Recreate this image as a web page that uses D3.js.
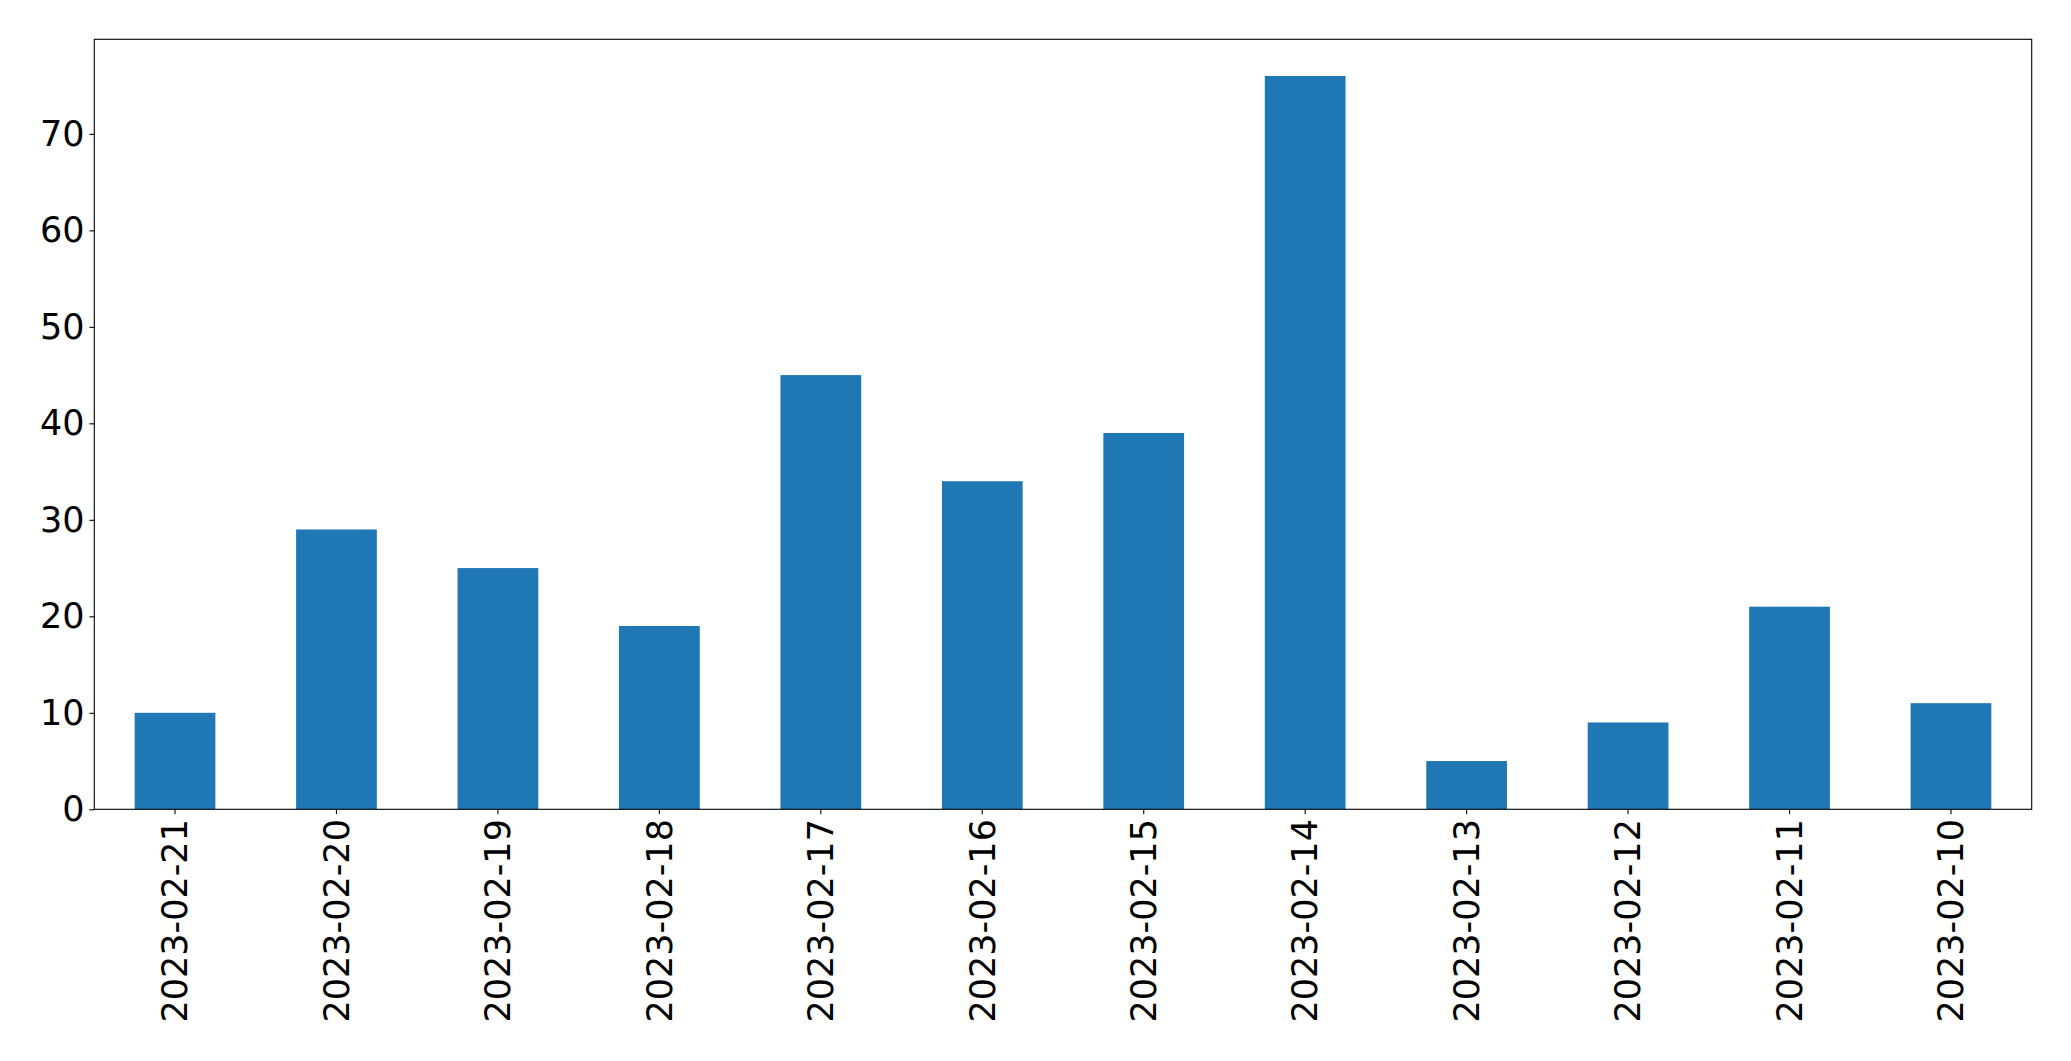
<!DOCTYPE html>
<html>
<head>
<meta charset="utf-8">
<script src="https://cdn.jsdelivr.net/npm/d3@7"></script>
<style>
html,body{margin:0;padding:0;background:#fff;}
svg{display:block;}
text{font-family:"DejaVu Sans",sans-serif;}
</style>
</head>
<body>
<script>
const categories = ["2023-02-21","2023-02-20","2023-02-19","2023-02-18","2023-02-17","2023-02-16","2023-02-15","2023-02-14","2023-02-13","2023-02-12","2023-02-11","2023-02-10"];
const values = [10, 29, 25, 19, 45, 34, 39, 76, 5, 9, 21, 11];
const yTicks = [0, 10, 20, 30, 40, 50, 60, 70];

(function () {
const W = 2071, H = 1061;
const mLeft = 94.3, mRight = 2031.7, mTop = 39.3, mBottom = 809.3;
const fontSize = 35, tickLen = 4.9, pad = 4.9;

const svg = d3.select("body").append("svg").attr("width", W).attr("height", H);

const x = d3.scaleBand().domain(categories).range([mLeft, mRight]).paddingInner(0.5).paddingOuter(0.25);
const y = d3.scaleLinear().domain([0, d3.max(values) * 1.05]).range([mBottom, mTop]);

svg.append("g").selectAll("rect").data(values).join("rect")
  .attr("x", (d, i) => x(categories[i]))
  .attr("width", x.bandwidth())
  .attr("y", d => y(d))
  .attr("height", d => y(0) - y(d))
  .attr("fill", "#1f77b4");

// frame
svg.append("rect").attr("x", mLeft).attr("y", mTop).attr("width", mRight - mLeft).attr("height", mBottom - mTop)
  .attr("fill", "none").attr("stroke", "#000").attr("stroke-width", 1.1);

// y axis
const yAxis = d3.axisLeft(y).tickValues(yTicks).tickSize(tickLen).tickPadding(pad);
const gy = svg.append("g").attr("transform", `translate(${mLeft},0)`).call(yAxis);
gy.select(".domain").remove();
gy.selectAll("line").attr("stroke", "#000").attr("stroke-width", 1.1);
gy.selectAll("text").attr("font-size", fontSize).attr("fill", "#000").style("font-family", '"DejaVu Sans", sans-serif');

// x axis
const xAxis = d3.axisBottom(x).tickSize(tickLen).tickPadding(pad);
const gx = svg.append("g").attr("transform", `translate(0,${mBottom})`).call(xAxis);
gx.select(".domain").remove();
gx.selectAll("line").attr("stroke", "#000").attr("stroke-width", 1.1);
gx.selectAll("text")
  .attr("font-size", fontSize).attr("fill", "#000").style("font-family", '"DejaVu Sans", sans-serif')
  .attr("transform", "rotate(-90)")
  .attr("text-anchor", "end")
  .attr("x", -(tickLen + pad))
  .attr("y", 0)
  .attr("dy", "0.35em");
})();
</script>
</body>
</html>
